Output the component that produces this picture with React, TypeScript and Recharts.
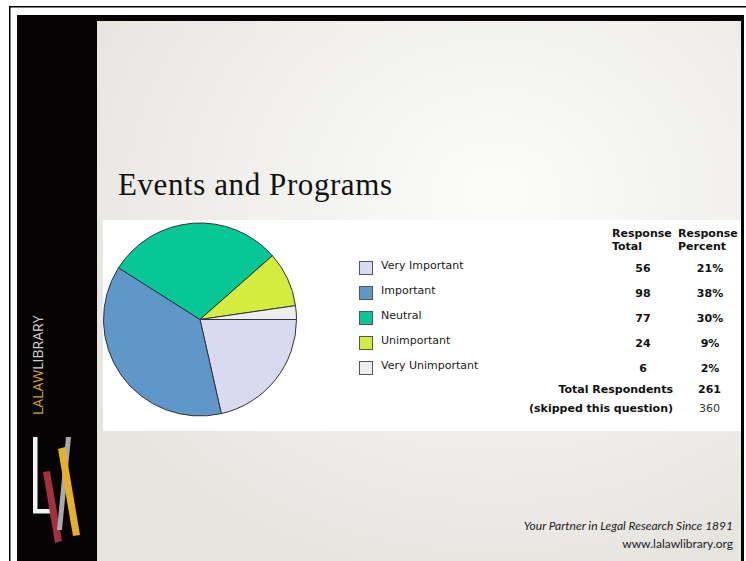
import React from 'react';
import { PieChart, Pie, Cell } from 'recharts';

// survey answers, in the order the pie draws them (clockwise from 3 o'clock)
const categories = ['Very Important', 'Important', 'Neutral', 'Unimportant', 'Very Unimportant'];
const responseTotals = [56, 98, 77, 24, 6];
const sliceColors = ['#d9d9f2', '#5e97c8', '#06c795', '#d3ec3d', '#eeeeee'];
const totalRespondents = 261;
const skippedQuestion = 360;

const pieData = categories.map((name, i) => ({ name, value: responseTotals[i] }));
const percentOf = (v: number) => `${Math.round((v / totalRespondents) * 100)}%`;

const PANEL = { left: 103, top: 220, width: 638, height: 211 };
const sans = '"DejaVu Sans", Verdana, sans-serif';

// legend + response table, drawn over the white panel
function LegendTable() {
  const rowTop = 41; // first swatch, relative to panel
  const step = 25;
  return (
    <svg
      width={PANEL.width}
      height={PANEL.height}
      style={{ position: 'absolute', left: PANEL.left, top: PANEL.top, pointerEvents: 'none' }}
      fontFamily={sans}
      fontSize={11}
    >
      <g fontWeight="bold" fill="#111">
        <text x={509} y={16.5}>Response</text>
        <text x={509} y={30}>Total</text>
        <text x={575} y={16.5}>Response</text>
        <text x={575} y={30}>Percent</text>
      </g>
      {categories.map((name, i) => {
        const y = rowTop + i * step;
        return (
          <g key={name}>
            <rect x={256.5} y={y + 0.5} width={13} height={13} fill={sliceColors[i]} stroke="#555" strokeWidth={1} />
            <text x={278} y={y + 7.5} fill="#1a1a1a">{name}</text>
            <text x={540} y={y + 11} textAnchor="middle" fontWeight="bold" fill="#111">{responseTotals[i]}</text>
            <text x={607} y={y + 11} textAnchor="middle" fontWeight="bold" fill="#111">{percentOf(responseTotals[i])}</text>
          </g>
        );
      })}
      <text x={570} y={173} textAnchor="end" fontWeight="bold" fill="#111">Total Respondents</text>
      <text x={606.5} y={173} textAnchor="middle" fontWeight="bold" fill="#111">{totalRespondents}</text>
      <text x={570} y={192} textAnchor="end" fontWeight="bold" fill="#111">(skipped this question)</text>
      <text x={606.5} y={192} textAnchor="middle" fill="#333">{skippedQuestion}</text>
    </svg>
  );
}

// slide frame, sidebar logo, title and footer
function SlideBackground() {
  return (
    <svg width={746} height={561} style={{ position: 'absolute', left: 0, top: 0 }}>
      <defs>
        <radialGradient id="slideBg" cx="0.62" cy="0.32" r="0.75">
          <stop offset="0" stopColor="#fcfcfb" />
          <stop offset="0.55" stopColor="#f0efec" />
          <stop offset="1" stopColor="#e6e4df" />
        </radialGradient>
      </defs>
      <rect x={0} y={0} width={746} height={561} fill="#fff" />
      <rect x={9} y={6} width={737} height={1.5} fill="#000" />
      <rect x={9} y={6} width={1.5} height={555} fill="#000" />
      <rect x={17} y={15} width={727} height={546} fill="#050303" />
      <rect x={97} y={21} width={644} height={540} fill="url(#slideBg)" />
      <rect x={PANEL.left} y={PANEL.top} width={PANEL.width} height={PANEL.height} fill="#fff" />

      <text x={118} y={194.5} fontFamily='"Liberation Serif", serif' fontSize={31} fill="#111" textLength={274} lengthAdjust="spacing">
        Events and Programs
      </text>

      <g fontFamily="Lato, sans-serif" fontSize={12} fill="#222" textAnchor="end">
        <text x={733} y={530} fontStyle="italic">Your Partner in Legal Research Since 1891</text>
        <text x={733} y={548}>www.lalawlibrary.org</text>
      </g>

      <text transform="translate(43,415) rotate(-90)" fontFamily='"Open Sans", sans-serif' fontSize={14}>
        <tspan fill="#d6a21e">LALAW</tspan>
        <tspan fill="#cfcfcf">LIBRARY</tspan>
      </text>

      <rect x={33} y={437} width={4.5} height={76} fill="#f2f2f2" />
      <rect x={33} y={509} width={19} height={4.5} fill="#f2f2f2" />
      <polygon points="43,472 50,471 62,541 55,543" fill="#a3303c" />
      <polygon points="66,437 71,437 62,530 57,530" fill="#a9a9a9" />
      <polygon points="58,449 65,447 80,535 73,536" fill="#e8b023" />
    </svg>
  );
}

export default function App() {
  return (
    <div style={{ position: 'absolute', left: 0, top: 0, width: 746, height: 561, overflow: 'hidden' }}>
      <SlideBackground />
      <div style={{ position: 'absolute', left: PANEL.left, top: PANEL.top }}>
        <PieChart width={200} height={211} margin={{ top: 0, right: 0, bottom: 0, left: 0 }}>
          <Pie
            data={pieData}
            dataKey="value"
            nameKey="name"
            cx={97}
            cy={99.5}
            innerRadius={0}
            outerRadius={96.5}
            startAngle={0}
            endAngle={-360}
            stroke="#333"
            strokeWidth={1}
            label={false}
            labelLine={false}
            isAnimationActive={false}
          >
            {pieData.map((d, i) => (
              <Cell key={d.name} fill={sliceColors[i]} />
            ))}
          </Pie>
        </PieChart>
      </div>
      <LegendTable />
    </div>
  );
}
